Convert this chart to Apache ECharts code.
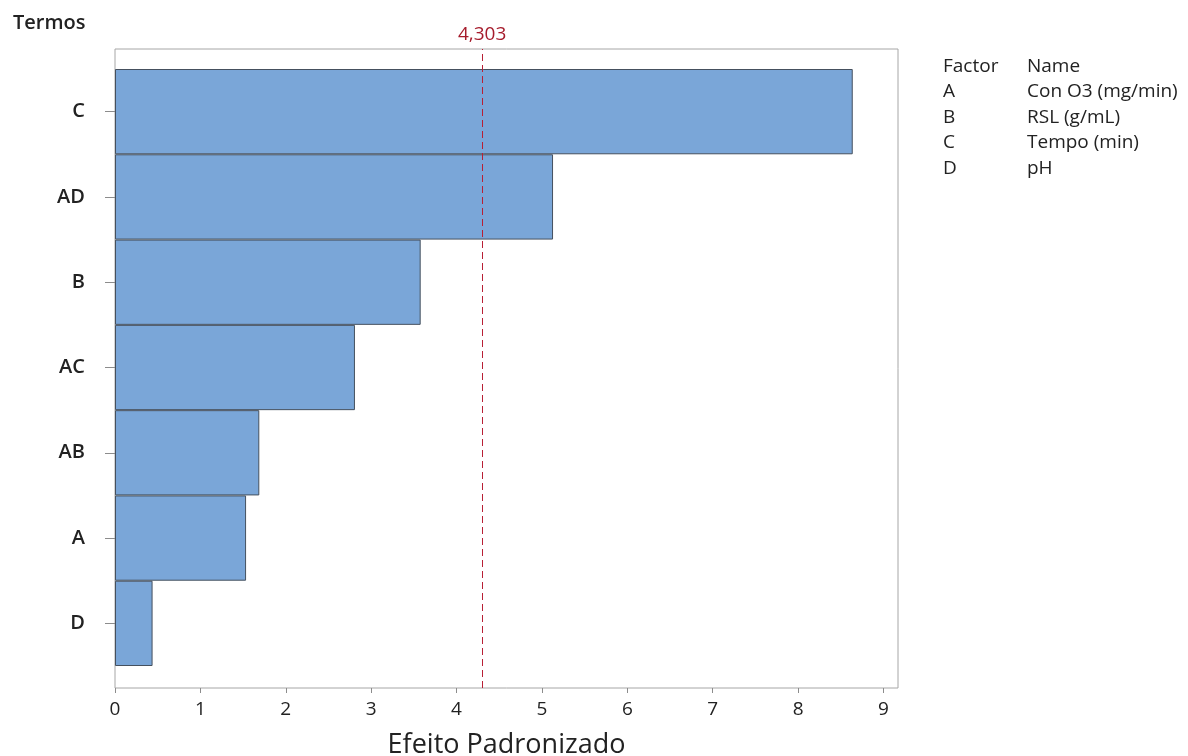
<!DOCTYPE html>
<html>
<head>
<meta charset="utf-8">
<script src="https://cdn.jsdelivr.net/npm/echarts@6/dist/echarts.min.js"></script>
<style>
  html, body { margin: 0; padding: 0; background: #fff; }
  #chart { width: 1188px; height: 756px; }
</style>
</head>
<body>
<div id="chart"></div>
<script>
// Pareto of standardized effects
const terms = ['C', 'AD', 'B', 'AC', 'AB', 'A', 'D'];
const effects = [8.64, 5.13, 3.58, 2.81, 1.69, 1.535, 0.44];
const xTicks = [0, 1, 2, 3, 4, 5, 6, 7, 8, 9];
const critical = 4.303;
const xMax = 9.17;

const factorCodes = ['A', 'B', 'C', 'D'];
const factorNames = ['Con O3 (mg/min)', 'RSL (g/mL)', 'Tempo (min)', 'pH'];

const FONT = '"Open Sans", "Noto Sans", sans-serif';
const TEXT = '#222222';
const LEGEND_FONT = '500 19px ' + FONT;

const legendTexts = [];
const rowTop = 68, rowStep = 25.5;
legendTexts.push({ type: 'text', left: 943, top: rowTop - 11, style: { text: 'Factor', font: LEGEND_FONT, fill: TEXT } });
legendTexts.push({ type: 'text', left: 1027, top: rowTop - 11, style: { text: 'Name', font: LEGEND_FONT, fill: TEXT } });
factorCodes.forEach((c, i) => {
  const y = rowTop - 11 + (i + 1) * rowStep;
  legendTexts.push({ type: 'text', left: 943, top: y, style: { text: c, font: LEGEND_FONT, fill: TEXT } });
  legendTexts.push({ type: 'text', left: 1027, top: y, style: { text: factorNames[i], font: LEGEND_FONT, fill: TEXT } });
});

const chart = echarts.init(document.getElementById('chart'), null, { renderer: 'canvas' });
chart.setOption({
  animation: false,
  backgroundColor: '#ffffff',
  grid: [
    // bars region (inset inside the frame)
    { left: 115, right: 290, top: 69, bottom: 90, show: false, containLabel: false, outerBoundsMode: 'none' },
    // full frame, carries the border and the reference line
    { left: 115, right: 290, top: 49, bottom: 68, show: true, borderColor: '#a6a6a6', borderWidth: 1, backgroundColor: 'transparent', z: 0, containLabel: false, outerBoundsMode: 'none' }
  ],
  xAxis: [
    {
      gridIndex: 0, type: 'value', min: 0, max: xMax, interval: 1, offset: 22,
      splitLine: { show: false },
      axisLine: { show: false },
      axisTick: { show: true, length: 5, lineStyle: { color: '#8c8c8c' }, customValues: xTicks },
      axisLabel: { color: TEXT, fontSize: 19, fontFamily: FONT, fontWeight: 500, margin: 12, customValues: xTicks },
      name: 'Efeito Padronizado', nameLocation: 'middle', nameGap: 44,
      nameTextStyle: { color: TEXT, fontSize: 27, fontFamily: FONT, fontWeight: 500 }
    },
    {
      gridIndex: 1, type: 'value', min: 0, max: xMax, show: false
    }
  ],
  yAxis: [
    {
      gridIndex: 0, type: 'category', data: terms, inverse: true,
      axisLine: { show: false },
      axisTick: { show: true, alignWithLabel: true, length: 10, inside: false, lineStyle: { color: '#8c8c8c' } },
      axisLabel: { color: TEXT, fontSize: 20, fontFamily: FONT, fontWeight: 600, margin: 30 },
      splitLine: { show: false }
    },
    {
      gridIndex: 1, type: 'value', min: 0, max: 1, show: false
    }
  ],
  series: [
    {
      type: 'bar', xAxisIndex: 0, yAxisIndex: 0,
      data: effects,
      barCategoryGap: 0,
      itemStyle: { color: '#7aa6d8', borderColor: '#45505e', borderWidth: 1 },
      z: 3
    },
    {
      type: 'line', xAxisIndex: 1, yAxisIndex: 1, data: [], z: 5,
      markLine: {
        silent: true, symbol: 'none',
        lineStyle: { color: '#b81f35', type: [7, 4], width: 1 },
        label: {
          show: true, position: 'end', formatter: '4,303', distance: 5,
          color: '#a61c2c', fontSize: 19, fontFamily: FONT, fontWeight: 500
        },
        data: [{ xAxis: critical }]
      }
    }
  ],
  graphic: [
    { type: 'text', left: 13, top: 13, style: { text: 'Termos', font: '600 20px ' + FONT, fill: TEXT } }
  ].concat(legendTexts)
});
</script>
</body>
</html>
